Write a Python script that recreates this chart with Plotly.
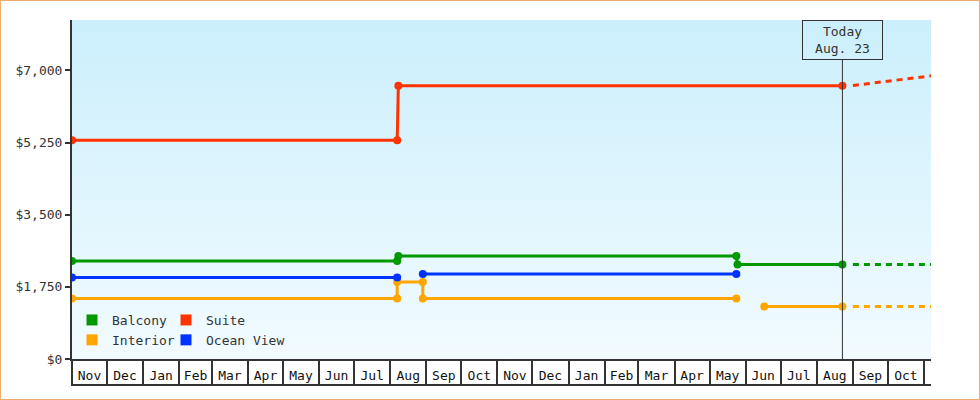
import plotly.graph_objects as go

# Cabin price history (step changes)
balcony_dates = ["2022-11-01", "2023-08-07", "2023-08-08", "2024-05-24", "2024-05-25", "2024-08-23"]
balcony_price = [2380, 2380, 2500, 2500, 2290, 2290]

suite_dates = ["2022-11-01", "2023-08-07", "2023-08-08", "2024-08-23"]
suite_price = [5310, 5310, 6630, 6630]

interior_dates = ["2022-11-01", "2023-08-07", "2023-08-07", "2023-08-29", "2023-08-29", "2024-05-24",
                  None, "2024-06-17", "2024-08-23"]
interior_price = [1470, 1470, 1870, 1870, 1470, 1470, None, 1275, 1275]

ocean_dates = ["2022-11-01", "2023-08-07", None, "2023-08-29", "2024-05-24"]
ocean_price = [1980, 1980, None, 2060, 2060]

# Forecasts (dashed, after today)
forecast_dates = ["2024-09-01", "2024-11-07"]
balcony_forecast = [2290, 2290]
suite_forecast = [6635, 6870]
interior_forecast = [1275, 1275]

y_ticks = [0, 1750, 3500, 5250, 7000]
y_labels = ["$0", "$1,750", "$3,500", "$5,250", "$7,000"]

TODAY = "2024-08-23"
X_START = "2022-11-01"
X_END = "2024-11-07"
Y_TOP = 8225

COLORS = {"Balcony": "#009900", "Suite": "#ff3300", "Interior": "#ffa500", "Ocean View": "#0033ff"}
FONT = "DejaVu Sans Mono"

# plot area in pixels (used to turn pixel offsets into paper coords)
W, H = 980, 400
ML, MR, MT, MB = 72, 49, 20, 41
PW, PH = W - ML - MR, H - MT - MB


def px_x(p):
    return (p - ML) / PW


def px_y(p):
    return (H - MB - p) / PH


fig = go.Figure()

# light blue vertical gradient behind the plot
fig.add_trace(go.Scatter(
    x=[X_START, X_END, X_END, X_START], y=[0, 0, Y_TOP, Y_TOP],
    mode="none", fill="toself", hoverinfo="skip", showlegend=False,
    fillgradient=dict(type="vertical", colorscale=[[0, "#f2fbff"], [1, "#cbeffc"]]),
))

series = [
    ("Balcony", balcony_dates, balcony_price),
    ("Suite", suite_dates, suite_price),
    ("Interior", interior_dates, interior_price),
    ("Ocean View", ocean_dates, ocean_price),
]
for name, xs, ys in series:
    fig.add_trace(go.Scatter(
        x=xs, y=ys, name=name, legendgroup=name, showlegend=False,
        mode="lines+markers", connectgaps=False,
        line=dict(color=COLORS[name], width=3),
        marker=dict(color=COLORS[name], size=8),
    ))

for name, ys in [("Balcony", balcony_forecast), ("Suite", suite_forecast), ("Interior", interior_forecast)]:
    fig.add_trace(go.Scatter(
        x=forecast_dates, y=ys, name=name + " forecast", legendgroup=name, showlegend=False,
        mode="lines", line=dict(color=COLORS[name], width=3, dash="6px,5px"),
    ))

# legend entries: square swatches, one vertical legend per column
for name, leg in [("Balcony", "legend"), ("Interior", "legend"), ("Suite", "legend2"), ("Ocean View", "legend2")]:
    fig.add_trace(go.Scatter(
        x=[None], y=[None], name=name, legendgroup=name, legend=leg,
        mode="markers", marker=dict(symbol="square", size=11, color=COLORS[name]),
    ))

legend_style = dict(orientation="v", xanchor="left", yanchor="middle", bgcolor="rgba(0,0,0,0)",
                    font=dict(family=FONT, size=13, color="#333"), itemwidth=30, tracegroupgap=0)

fig.update_layout(
    width=W, height=H,
    margin=dict(l=ML, r=MR, t=MT, b=MB),
    paper_bgcolor="white", plot_bgcolor="white",
    font=dict(family=FONT, size=13, color="#333"),
    legend=dict(legend_style, x=px_x(72), y=px_y(330)),
    legend2=dict(legend_style, x=px_x(166), y=px_y(330)),
    xaxis=dict(
        type="date", range=[X_START, X_END],
        showgrid=False, zeroline=False,
        showline=True, linecolor="#333", linewidth=2,
        ticks="outside", ticklen=25, tickwidth=1.5, tickcolor="#333",
        dtick="M1", tick0=X_START, tickformat="%b", ticklabelmode="period",
        ticklabelstandoff=-22,
        tickfont=dict(family=FONT, size=13, color="#111"),
    ),
    yaxis=dict(
        range=[0, Y_TOP], tickmode="array", tickvals=y_ticks, ticktext=y_labels,
        showgrid=False, zeroline=False,
        showline=True, linecolor="#333", linewidth=2,
        ticks="outside", ticklen=5, tickwidth=2, tickcolor="#333",
        tickfont=dict(family=FONT, size=13, color="#333"),
    ),
)

# today marker line + label box
fig.add_shape(type="line", xref="x", yref="paper", x0=TODAY, x1=TODAY, y0=0, y1=px_y(60),
              line=dict(color="#333", width=1))
fig.add_annotation(x=TODAY, xref="x", y=1, yref="paper", yanchor="top", showarrow=False,
                   text="Today<br>Aug. 23", font=dict(family=FONT, size=13, color="#333"),
                   bordercolor="#333", borderwidth=1, borderpad=0, width=79, height=38)

# bottom edge of the month cells
fig.add_shape(type="line", xref="paper", yref="paper", x0=px_x(71), x1=1, y0=px_y(385), y1=px_y(385),
              line=dict(color="#333", width=2))

# thin orange frame round the whole figure
fig.add_shape(type="rect", xref="paper", yref="paper",
              x0=px_x(0.5), x1=px_x(W - 0.5), y0=px_y(H - 0.5), y1=px_y(0.5),
              line=dict(color="#eeae68", width=1))

# the page's default body margin would push the chart 8px down and right
fig.write_html("out.html", config={"displayModeBar": False},
               post_script="document.body.style.margin='0';")
